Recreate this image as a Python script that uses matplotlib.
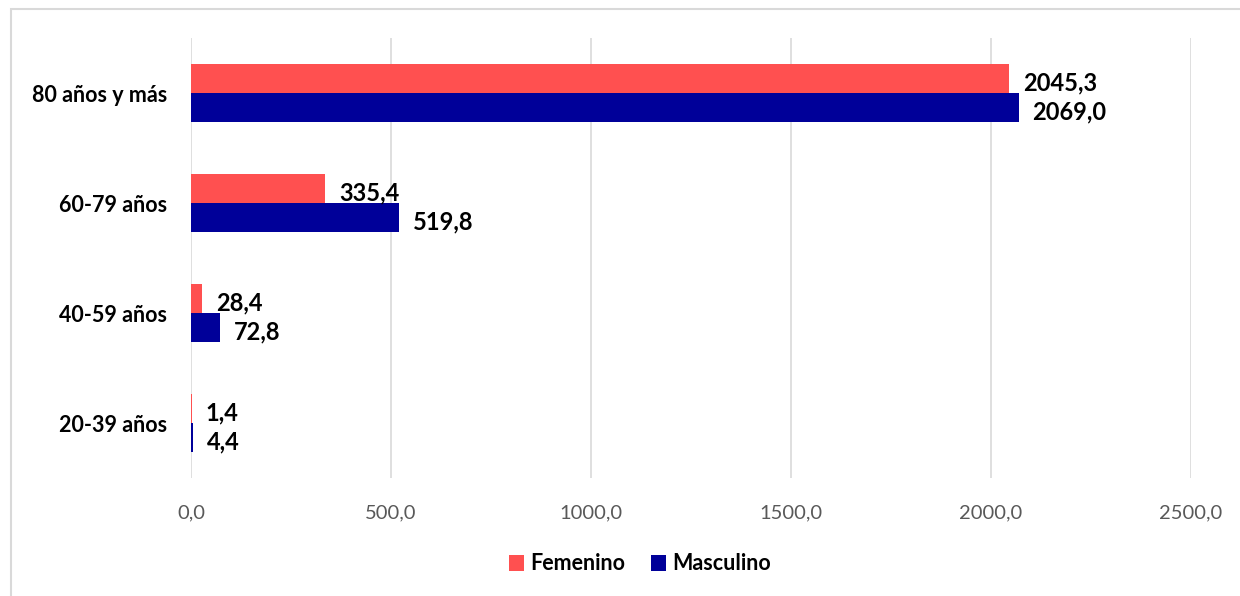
import matplotlib.pyplot as plt
from matplotlib.patches import Rectangle

plt.rcParams['font.family'] = ['Lato', 'DejaVu Sans']

categorias = ['20-39 años', '40-59 años', '60-79 años', '80 años y más']
femenino = [1.4, 28.4, 335.4, 2045.3]
masculino = [4.4, 72.8, 519.8, 2069.0]
xticks = [0, 500, 1000, 1500, 2000, 2500]

rojo = '#ff5050'
azul = '#000099'

fig = plt.figure(figsize=(12.4, 5.96), dpi=100)
ax = fig.add_axes([191 / 1240, 1 - 478 / 596, 1000 / 1240, 440 / 596])

# marco del grafico
fig.patches.append(Rectangle((11 / 1240, -0.1), 1.2, (596 - 9) / 596 + 0.1,
                             transform=fig.transFigure, fill=False,
                             edgecolor='#d9d9d9', linewidth=1.5))

h = 0.265
y = list(range(len(categorias)))
yf = [i + h / 2 for i in y]
ym = [i - h / 2 for i in y]
bf = ax.barh(yf, femenino, height=h, color=rojo, label='Femenino')
bm = ax.barh(ym, masculino, height=h, color=azul, label='Masculino')

for yy, v in zip(yf, femenino):
    ax.annotate(f'{v:.1f}'.replace('.', ','), (v, yy), xytext=(10, -3),
                textcoords='offset points', ha='left', va='center',
                fontsize=17, fontweight='bold')
for yy, v in zip(ym, masculino):
    ax.annotate(f'{v:.1f}'.replace('.', ','), (v, yy), xytext=(10, -3),
                textcoords='offset points', ha='left', va='center',
                fontsize=17, fontweight='bold')

ax.set_xlim(0, 2500)
ax.set_ylim(-0.5, 3.5)
ax.set_xticks(xticks)
ax.set_xticklabels([f'{t:.1f}'.replace('.', ',') for t in xticks],
                   fontsize=14.5, color='#595959')
ax.set_yticks(y)
ax.set_yticklabels(categorias, fontsize=15.5, fontweight='bold')
ax.tick_params(axis='both', length=0)
ax.tick_params(axis='x', pad=19)
ax.tick_params(axis='y', pad=17)
ax.grid(axis='x', color='#d9d9d9', linewidth=1.2)
ax.set_axisbelow(True)
for s in ax.spines.values():
    s.set_visible(False)

leg = fig.legend(handles=[bf, bm], loc='center', bbox_to_anchor=(640 / 1240, 1 - 564 / 596),
                 ncol=2, frameon=False, handlelength=0.7, handleheight=0.7,
                 handletextpad=0.3, columnspacing=1.2,
                 prop={'size': 15.5, 'weight': 'bold'})

fig.savefig('out.png', dpi=100)
